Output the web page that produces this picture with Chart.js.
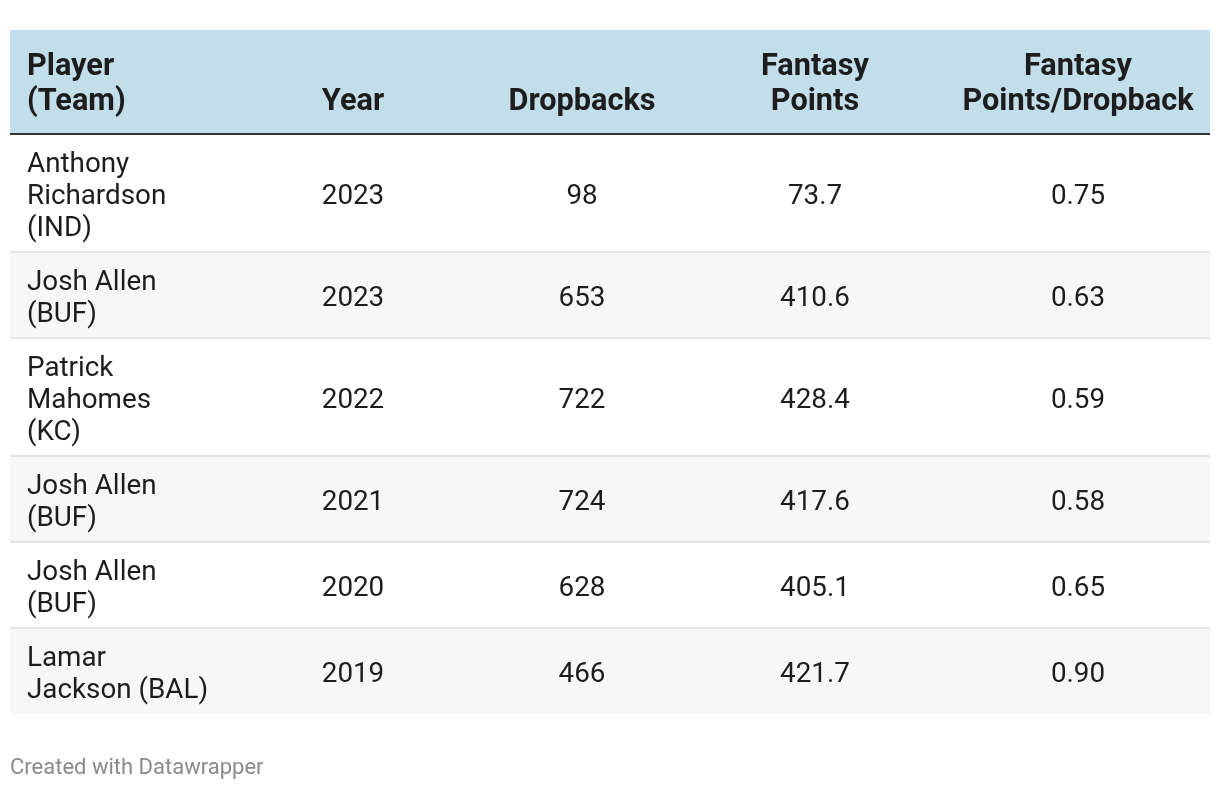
<!DOCTYPE html>
<html>
<head>
<meta charset="utf-8">
<title>QB fantasy points per dropback</title>
<script src="https://cdn.jsdelivr.net/npm/chart.js@4"></script>
<style>
  html, body { margin: 0; padding: 0; background: #ffffff; }
  canvas { display: block; }
</style>
</head>
<body>
<canvas id="tableChart" width="1220" height="790"></canvas>
<script>
const headers = ["Player\n(Team)", "Year", "Dropbacks", "Fantasy\nPoints", "Fantasy\nPoints/Dropback"];

const players = [
  "Anthony\nRichardson\n(IND)",
  "Josh Allen\n(BUF)",
  "Patrick\nMahomes\n(KC)",
  "Josh Allen\n(BUF)",
  "Josh Allen\n(BUF)",
  "Lamar\nJackson (BAL)"
];
const years = [2023, 2023, 2022, 2021, 2020, 2019];
const dropbacks = [98, 653, 722, 724, 628, 466];
const fantasyPoints = [73.7, 410.6, 428.4, 417.6, 405.1, 421.7];
const pointsPerDropback = [0.75, 0.63, 0.59, 0.58, 0.65, 0.90];

const footerText = "Created with Datawrapper";

// layout (in table units: x 0..1200, y 0..height)
const FONT = "Roboto, 'Liberation Sans', sans-serif";
const bodyLine = 32, headLine = 35, rowPad = 22, headPad = 34;
const columns = [
  { start: 0,   width: 216, align: "left" },
  { start: 216, width: 254, align: "center" },
  { start: 470, width: 204, align: "center" },
  { start: 674, width: 262, align: "center" },
  { start: 936, width: 264, align: "center" }
];

const rows = players.map((p, i) => [
  p,
  String(years[i]),
  String(dropbacks[i]),
  fantasyPoints[i].toFixed(1),
  pointsPerDropback[i].toFixed(2)
]);
const lineCount = s => s.split("\n").length;
const headHeight = Math.max(...headers.map(lineCount)) * headLine + headPad;
const rowHeights = rows.map(r => Math.max(...r.map(lineCount)) * bodyLine + rowPad);
const tableHeight = headHeight + rowHeights.reduce((a, b) => a + b, 0);

const tablePlugin = {
  id: "tablePlugin",
  afterDraw(chart) {
    const { ctx, scales: { x, y } } = chart;
    const X = v => x.getPixelForValue(v);
    const Y = v => y.getPixelForValue(v);

    const cellX = (col) => {
      if (col.align === "left") return X(col.start) + 17;
      return X(col.start + col.width / 2);
    };

    ctx.save();
    // header
    ctx.fillStyle = "#c2deeb";
    ctx.fillRect(X(0), Y(0), X(1200) - X(0), Y(headHeight) - Y(0));
    ctx.font = "bold 30.7px " + FONT;
    ctx.fillStyle = "#1d1d1d";
    ctx.textBaseline = "middle";
    const maxHeadLines = Math.max(...headers.map(lineCount));
    headers.forEach((h, c) => {
      const lines = h.split("\n");
      const col = columns[c];
      ctx.textAlign = col.align;
      const offset = maxHeadLines - lines.length;
      lines.forEach((ln, k) => {
        const cy = headPad / 2 + (offset + k + 0.5) * headLine;
        ctx.fillText(ln, cellX(col), Y(cy) + 3);
      });
    });

    // rows
    let top = headHeight;
    rows.forEach((r, i) => {
      const h = rowHeights[i];
      if (i % 2 === 1) {
        ctx.fillStyle = "#f7f7f7";
        ctx.fillRect(X(0), Y(top), X(1200) - X(0), Y(top + h) - Y(top));
      }
      if (i > 0) {
        ctx.fillStyle = "#e5e5e5";
        ctx.fillRect(X(0), Y(top) - 1, X(1200) - X(0), 2);
      }
      ctx.font = "27.8px " + FONT;
      ctx.fillStyle = "#1d1d1d";
      r.forEach((txt, c) => {
        const lines = txt.split("\n");
        const col = columns[c];
        ctx.textAlign = col.align;
        const mid = top + h / 2;
        lines.forEach((ln, k) => {
          const cy = mid + (k - (lines.length - 1) / 2) * bodyLine;
          ctx.fillText(ln, cellX(col), Y(cy) + 4);
        });
      });
      top += h;
    });

    // header bottom border
    ctx.fillStyle = "#333333";
    ctx.fillRect(X(0), Y(headHeight) - 1, X(1200) - X(0), 2);

    // footer
    ctx.font = "22px " + FONT;
    ctx.fillStyle = "#8a8a8a";
    ctx.textAlign = "left";
    ctx.fillText(footerText, X(0), Y(tableHeight) + 54);
    ctx.restore();
  }
};

new Chart(document.getElementById("tableChart"), {
  type: "scatter",
  data: { datasets: [{ data: [] }] },
  options: {
    responsive: false,
    animation: false,
    devicePixelRatio: 1,
    layout: { padding: { left: 10, right: 10, top: 30, bottom: 790 - 30 - tableHeight } },
    plugins: { legend: { display: false }, tooltip: { enabled: false } },
    scales: {
      x: { type: "linear", min: 0, max: 1200, display: false },
      y: { type: "linear", min: 0, max: tableHeight, reverse: true, display: false }
    }
  },
  plugins: [tablePlugin]
});
</script>
</body>
</html>
